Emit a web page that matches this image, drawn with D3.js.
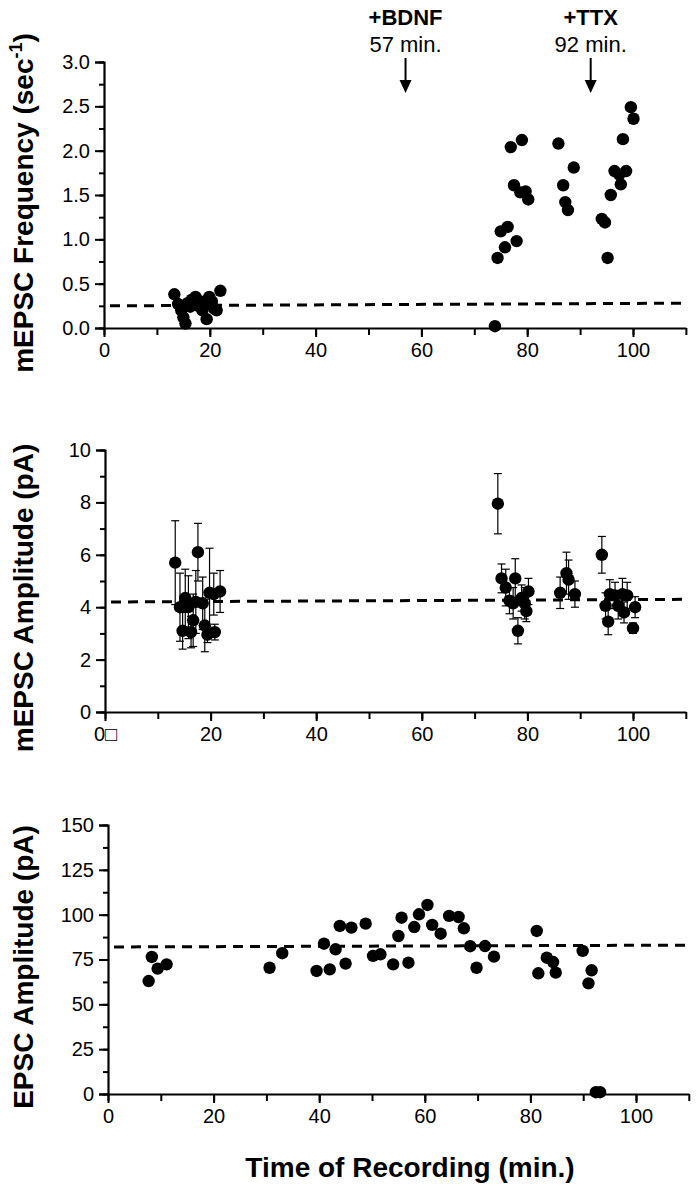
<!DOCTYPE html>
<html><head><meta charset="utf-8">
<script src="https://cdn.jsdelivr.net/npm/d3@7"></script>
<style>body{margin:0;background:#fff}text{font-family:"Liberation Sans",Arial,sans-serif}</style>
</head><body><svg id="c" width="698" height="1200"></svg>
<script>
// ---- Panel A: mEPSC frequency ----
const freqTime = [13.3,14.0,14.6,15.0,15.4,15.8,16.3,16.6,17.0,17.3,17.8,18.2,18.6,19.0,19.4,19.9,20.4,20.8,21.3,22.0,
  73.9,74.4,75.0,75.8,76.3,76.9,77.5,78.0,78.7,79.0,79.7,80.2,
  85.9,86.8,87.2,87.7,88.8,94.1,94.7,95.2,95.8,96.5,97.4,97.7,98.1,98.7,99.6,100.1];
const freqVal = [0.38,0.27,0.20,0.12,0.05,0.28,0.24,0.32,0.30,0.35,0.25,0.30,0.20,0.27,0.10,0.35,0.30,0.22,0.20,0.42,
  0.02,0.79,1.09,0.91,1.14,2.04,1.61,0.98,1.53,2.12,1.54,1.45,
  2.08,1.61,1.42,1.33,1.81,1.23,1.19,0.79,1.50,1.77,1.73,1.62,2.13,1.77,2.49,2.36];
const freqMean = [0.25, 0.28];
const freqTicks = [0,0.5,1.0,1.5,2.0,2.5,3.0];

// ---- Panel B: mEPSC amplitude ----
const ampTime = [13.3,14.2,14.7,15.2,15.8,16.3,16.7,17.2,17.6,18.5,18.9,19.4,19.8,20.6,20.8,21.8,
  74.4,75.1,75.9,76.6,77.3,77.7,78.2,78.9,79.5,79.8,80.2,
  86.2,87.4,87.8,89.0,94.1,94.8,95.3,95.6,96.6,97.2,98.0,98.3,98.9,100.0,100.4];
const ampVal = [5.7,4.0,3.1,4.35,4.0,3.05,3.5,4.2,6.1,4.15,3.3,2.95,4.55,4.5,3.05,4.6,
  7.95,5.1,4.75,4.25,4.15,5.1,3.1,4.35,4.15,3.85,4.6,
  4.55,5.3,5.05,4.5,6.0,4.05,3.45,4.5,4.45,4.05,4.5,3.8,4.45,3.2,4.0];
const ampErr = [1.6,1.3,0.7,1.1,1.2,0.6,1.0,1.2,1.1,1.0,1.0,0.3,1.7,0.8,0.3,0.8,
  1.15,0.55,0.7,0.5,0.6,0.75,0.5,0.5,0.6,0.4,0.5,
  0.6,0.8,0.75,0.5,0.7,0.5,0.5,0.55,0.5,0.5,0.6,0.4,0.5,0.2,0.4];
const ampMean = [4.2, 4.3];
const ampTicks = [0,2,4,6,8,10];

// ---- Panel C: EPSC amplitude ----
const epscTime = [7.7,8.3,9.4,11.1,30.6,33.0,39.5,40.9,42.0,43.1,43.9,45.0,46.1,48.8,50.2,51.6,54.0,55.0,55.6,
  56.9,58.0,58.9,60.5,61.4,63.0,64.6,66.4,67.4,68.6,69.8,71.4,73.1,
  81.2,81.5,83.1,84.3,84.8,89.9,91.0,91.6,92.4,93.2];
const epscVal = [63.0,76.4,69.9,72.3,70.4,78.5,68.6,83.8,69.5,80.7,93.7,72.7,92.8,95.0,77.0,77.9,72.3,88.1,98.3,
  73.2,93.1,100.2,105.4,94.3,89.4,99.3,98.7,92.4,82.4,70.4,82.5,76.6,
  90.9,67.3,76.0,73.6,67.7,79.8,61.7,69.0,1.0,1.0];
const epscMean = [82, 83];
const epscTicks = [0,25,50,75,100,125,150];

const xTicks = [0,20,40,60,80,100];
const events = [{label:"+BDNF", sub:"57 min.", t:57},{label:"+TTX", sub:"92 min.", t:92}];

const svg = d3.select("#c");
const black = "#000";

function panel(cfg){
  const g = svg.append("g");
  const x = d3.scaleLinear().domain([0,110]).range([cfg.x0, cfg.x0 + (cfg.x100-cfg.x0)*1.1]);
  const y = d3.scaleLinear().domain([0,cfg.ymax]).range([cfg.y0, cfg.ytop]);
  const ymin = d3.range(0, cfg.ymax + 1e-9, cfg.minor);
  g.append("g").attr("transform",`translate(${cfg.x0},0)`)
    .call(d3.axisLeft(y).tickValues(ymin).tickSize(5).tickFormat(""))
    .call(a=>a.select(".domain").remove());
  g.append("g").attr("transform",`translate(${cfg.x0},0)`)
    .call(d3.axisLeft(y).tickValues(cfg.yTicks).tickSize(9).tickPadding(5).tickFormat(cfg.fmt))
    .call(a=>a.select(".domain").attr("stroke-width",2.2))
    .call(a=>a.selectAll("text").attr("font-size",20).attr("fill",black));
  const xmin = d3.range(0,111,10);
  g.append("g").attr("transform",`translate(0,${cfg.y0})`)
    .call(d3.axisBottom(x).tickValues(xmin).tickSize(7).tickFormat(""))
    .call(a=>a.select(".domain").remove());
  g.append("g").attr("transform",`translate(0,${cfg.y0})`)
    .call(d3.axisBottom(x).tickValues(xTicks).tickSize(9).tickPadding(6).tickSizeOuter(0).tickFormat(cfg.xfmt || (d=>d)))
    .call(a=>a.select(".domain").attr("stroke-width",2.2))
    .call(a=>a.selectAll("text").attr("font-size",20).attr("fill",black));
  g.selectAll(".tick line").attr("stroke-width",2);
  g.append("line").attr("x1",x(0)+6).attr("x2",x(110)-2)
    .attr("y1",y(cfg.mean[0])).attr("y2",y(cfg.mean[1]))
    .attr("stroke",black).attr("stroke-width",3).attr("stroke-dasharray","10,7");
  g.append("text").attr("transform",`translate(${cfg.titleX},${cfg.titleY}) rotate(-90)`)
    .attr("text-anchor","middle").attr("font-size",28).attr("font-weight","bold")
    .call(cfg.title);
  if (cfg.err){
    const eb = g.append("g").attr("stroke",black).attr("stroke-width",1.2);
    cfg.t.forEach((t,i)=>{
      const v = cfg.v[i], e = cfg.err[i];
      eb.append("line").attr("x1",x(t)).attr("x2",x(t)).attr("y1",y(v-e)).attr("y2",y(v+e));
      [v-e,v+e].forEach(w=>eb.append("line").attr("x1",x(t)-4).attr("x2",x(t)+4).attr("y1",y(w)).attr("y2",y(w)));
    });
  }
  g.append("g").selectAll("circle").data(cfg.t).join("circle")
    .attr("cx",d=>x(d)).attr("cy",(d,i)=>y(cfg.v[i])).attr("r",6.2).attr("fill",black);
  return {x,y};
}

const A = panel({x0:104,x100:633,y0:328,ytop:62,ymax:3,minor:0.25,yTicks:freqTicks,fmt:d3.format(".1f"),
  mean:freqMean,t:freqTime,v:freqVal,titleX:33,titleY:203,
  title:t=>{t.append("tspan").text("mEPSC Frequency (sec");
            t.append("tspan").attr("font-size",18).attr("dy",-11).text("-1");
            t.append("tspan").attr("dy",11).text(")");}});
panel({x0:105,x100:633,y0:712,ytop:450,ymax:10,minor:1,yTicks:ampTicks,fmt:d=>d,
  xfmt:d=>d===0?"0\u25A1":d,
  mean:ampMean,t:ampTime,v:ampVal,err:ampErr,titleX:33,titleY:598,
  title:t=>t.text("mEPSC Amplitude (pA)")});
panel({x0:108,x100:636,y0:1094,ytop:825,ymax:150,minor:12.5,yTicks:epscTicks,fmt:d=>d,
  mean:epscMean,t:epscTime,v:epscVal,titleX:33,titleY:967,
  title:t=>t.text("EPSC Amplitude (pA)")});

events.forEach(ev=>{
  const cx = A.x(ev.t);
  svg.append("text").attr("x",cx).attr("y",25).attr("text-anchor","middle")
    .attr("font-size",22).attr("font-weight","bold").text(ev.label);
  svg.append("text").attr("x",cx).attr("y",52).attr("text-anchor","middle")
    .attr("font-size",22).text(ev.sub);
  svg.append("line").attr("x1",cx).attr("x2",cx).attr("y1",58).attr("y2",82)
    .attr("stroke",black).attr("stroke-width",2);
  svg.append("path").attr("d",`M${cx-6},80 L${cx+6},80 L${cx},93 Z`).attr("fill",black);
});

svg.append("text").attr("x",410).attr("y",1177).attr("text-anchor","middle")
  .attr("font-size",28).attr("font-weight","bold").text("Time of Recording (min.)");
</script></body></html>
